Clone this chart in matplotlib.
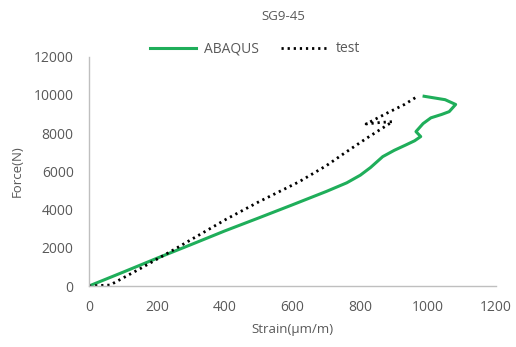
import matplotlib.pyplot as plt

# ABAQUS curve (strain, force)
abaqus_x = [0, 100, 200, 300, 400, 500, 600, 700, 760, 800, 830, 866, 900, 934, 960, 978, 964, 985, 1008, 1040, 1062, 1081, 1050, 988]
abaqus_y = [0, 720, 1450, 2160, 2880, 3560, 4250, 4950, 5400, 5800, 6200, 6770, 7100, 7380, 7600, 7820, 8080, 8500, 8800, 8980, 9125, 9500, 9750, 9930]

# test curve (strain, force)
test_x = [0, 62, 150, 250, 405, 500, 620, 700, 753, 820, 895, 860, 817, 880, 930, 969]
test_y = [0, 50, 900, 1900, 3500, 4400, 5460, 6300, 6950, 7750, 8600, 8560, 8480, 9060, 9500, 9930]

xticks = [0, 200, 400, 600, 800, 1000, 1200]
yticks = [0, 2000, 4000, 6000, 8000, 10000, 12000]

grey = '#595959'
plt.rcParams['font.family'] = ['Open Sans', 'DejaVu Sans']

fig = plt.figure(figsize=(5.16, 3.47), dpi=100)
ax = fig.add_axes([89/516, 1-286/347, (496-89)/516, (286-56.7)/347])

ax.plot(abaqus_x, abaqus_y, color='#1fae5a', lw=2.2, label='ABAQUS')
ax.plot(test_x, test_y, color='black', lw=2.0, ls=(0, (0.8, 1.4)), label='test')

ax.set_xlim(0, 1200)
ax.set_ylim(0, 12000)
ax.set_xticks(xticks)
ax.set_yticks(yticks)
ax.tick_params(length=0, labelsize=10, colors=grey)
ax.tick_params(axis='y', pad=11)
ax.tick_params(axis='x', pad=10)
for s in ['top', 'right']:
    ax.spines[s].set_visible(False)
for s in ['left', 'bottom']:
    ax.spines[s].set_color('#bfbfbf')
    ax.spines[s].set_linewidth(1.0)

ax.set_xlabel('Strain(μm/m)', fontsize=9.5, color=grey, labelpad=6)
ax.set_ylabel('Force(N)', fontsize=9.5, color=grey, labelpad=7)
fig.text(283/516, 1-16/347, 'SG9-45', ha='center', va='center', fontsize=9.5, color=grey)

leg = ax.legend(loc='center', bbox_to_anchor=(255/516, 1-49/347), bbox_transform=fig.transFigure,
                ncol=2, frameon=False, fontsize=10, handlelength=3.3, columnspacing=1.6, handletextpad=0.6)
for t in leg.get_texts():
    t.set_color(grey)

fig.savefig('out.png', dpi=100)
